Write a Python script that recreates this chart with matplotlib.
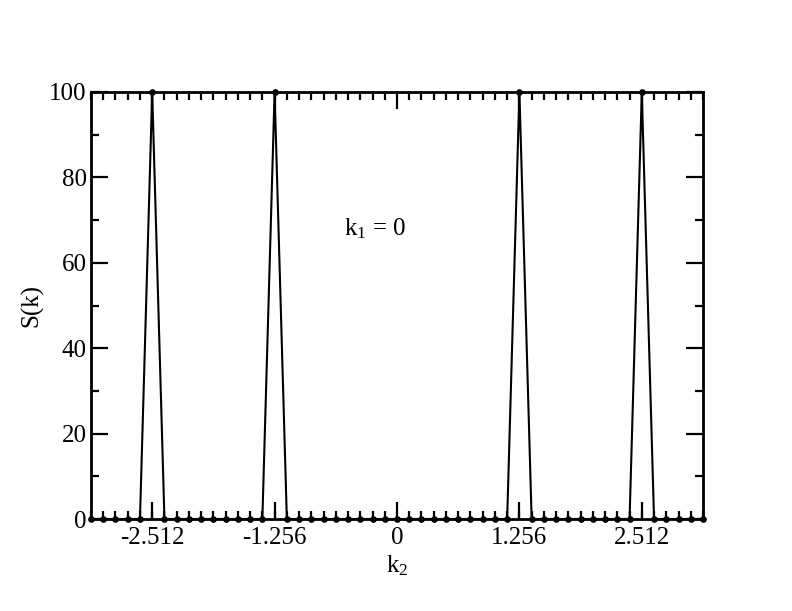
import numpy as np
import matplotlib.pyplot as plt
from matplotlib.ticker import MultipleLocator

# structure factor along k2 at k1 = 0 (51 grid points, spacing 2*pi/50)
n_points = 51
k2 = np.linspace(-np.pi, np.pi, n_points)
s_k = [0] * n_points
peak_index = [5, 15, 35, 45]
peak_value = [100, 100, 100, 100]
for i, v in zip(peak_index, peak_value):
    s_k[i] = v

xtick_pos = [-2.512, -1.256, 0.0, 1.256, 2.512]
xtick_labels = ["-2.512", "-1.256", "0", "1.256", "2.512"]

plt.rcParams["font.family"] = ["Liberation Serif", "DejaVu Serif"]
plt.rcParams["mathtext.fontset"] = "custom"
plt.rcParams["mathtext.rm"] = "Liberation Serif"
plt.rcParams["mathtext.it"] = "Liberation Serif"

fig = plt.figure(figsize=(7.92, 6.11), dpi=100)
ax = fig.add_axes([91 / 792, 1 - 519 / 611, (703 - 91) / 792, (519 - 92) / 611])

ax.plot(k2, s_k, color="black", lw=1.5, marker="o", ms=3.8, mfc="black", mec="black",
        clip_on=False, zorder=3)

ax.set_xlim(-np.pi, np.pi)
ax.set_ylim(0, 100)
ax.set_xticks(xtick_pos)
ax.set_xticklabels(xtick_labels)
ax.xaxis.set_minor_locator(MultipleLocator(2 * np.pi / 50))
ax.yaxis.set_major_locator(MultipleLocator(20))
ax.yaxis.set_minor_locator(MultipleLocator(10))

ax.tick_params(which="both", direction="in", top=True, right=True, width=1.6,
               labelsize=18)
ax.tick_params(axis="x", pad=6)
ax.tick_params(axis="y", pad=3)
ax.tick_params(which="major", length=12)
ax.tick_params(which="minor", length=6)
for sp in ax.spines.values():
    sp.set_linewidth(2)

ax.set_xlabel(r"k$_2$", fontsize=18, labelpad=3)
ax.set_ylabel("S(k)", fontsize=18, labelpad=4)
ax.text(-0.54, 68, r"k$_1$ = 0", fontsize=18, va="center", ha="left")

fig.savefig("out.png", dpi=100)
